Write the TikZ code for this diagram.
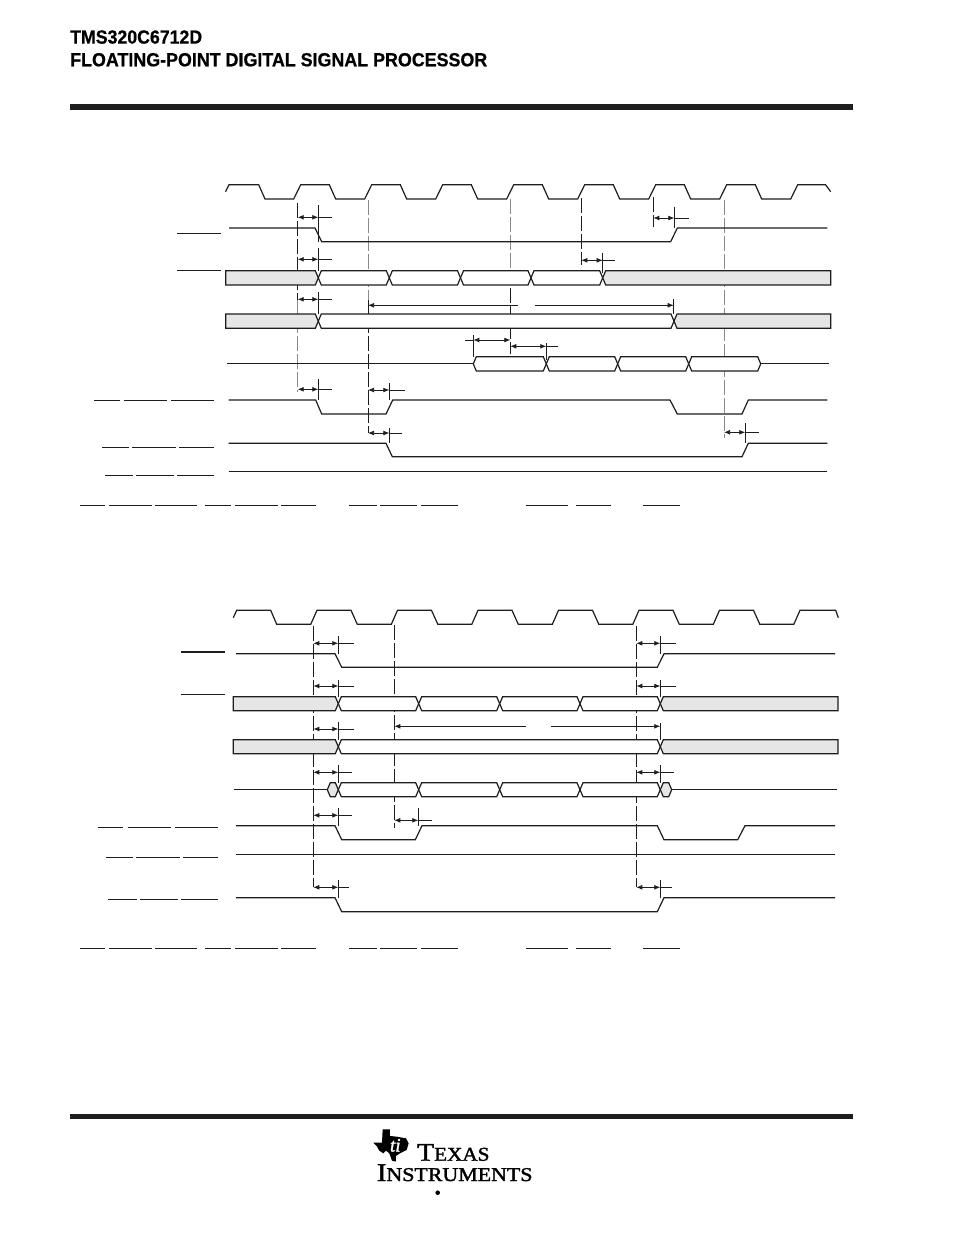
\documentclass[tikz,border=0pt]{standalone}
\usepackage{fontspec}
\usepackage{graphicx}
\setmainfont{Liberation Sans}
\newfontfamily\logofont{Liberation Serif}[FakeBold=1.6]
\newfontfamily\headfont{Liberation Sans Bold}[FakeBold=0.7]
\usetikzlibrary{arrows.meta}
\definecolor{ink}{HTML}{1E1E1E}
\definecolor{busgrey}{HTML}{E6E6E6}
\definecolor{dashgrey}{HTML}{8A8A8A}
\tikzset{
  wave/.style={draw=ink,line width=1.2pt,line join=miter},
  bar/.style={draw=ink,line width=0.9pt},
  guide/.style={draw=ink,line width=0.7pt,dash pattern=on 15pt off 3pt},
  guidegrey/.style={draw=dashgrey,line width=0.9pt,dash pattern=on 15pt off 3pt},
  dimline/.style={draw=ink,line width=0.75pt},
  dimtips/.style={dimline,{Latex[length=6pt,width=4.8pt]}-{Latex[length=6pt,width=4.8pt]}},
  endtip/.style={dimline,-{Latex[length=6pt,width=4.8pt]}},
  starttip/.style={dimline,{Latex[length=6pt,width=4.8pt]}-},
  rule/.style={fill=ink,draw=none},
  txt/.style={inner sep=0pt,anchor=base west},
}
% {x1}{x2}{y}{tail x}{tick top}{tick bottom}
\newcommand{\dimar}[6]{%
  \draw[dimtips] (#1,#3) -- (#2,#3);
  \draw[dimline] (#2,#3) -- (#4,#3);
  \draw[dimline] (#2,#5) -- (#2,#6);}
% {x1}{x2}{top}{bottom}{fill}
\newcommand{\cell}[5]{%
  \draw[wave,fill=#5] (#1,{(#3+#4)/2}) -- ({#1+3},#3) -- ({#2-3},#3) -- (#2,{(#3+#4)/2}) -- ({#2-3},#4) -- ({#1+3},#4) -- cycle;}
\newcommand{\greyleft}[4]{%
  \draw[wave,fill=busgrey] (#1,#3) -- ({#2-3},#3) -- (#2,{(#3+#4)/2}) -- ({#2-3},#4) -- (#1,#4) -- cycle;}
\newcommand{\greyright}[4]{%
  \draw[wave,fill=busgrey] (#2,#3) -- ({#1+3},#3) -- (#1,{(#3+#4)/2}) -- ({#1+3},#4) -- (#2,#4) -- cycle;}
\begin{document}
\begin{tikzpicture}[x=1pt,y=-1pt]
\useasboundingbox (0,0) rectangle (954,1235);
\fill[white] (0,0) rectangle (954,1235);

% header
\node[txt] (title1) at (70,43.6) {\resizebox{132pt}{\height}{\headfont\fontsize{19pt}{20pt}\selectfont TMS320C6712D}};
\node[txt] (title2) at (70,66.3) {\resizebox{417pt}{\height}{\headfont\fontsize{19pt}{20pt}\selectfont FLOATING-POINT DIGITAL SIGNAL PROCESSOR}};
\fill[rule] (70,104) rectangle (853,110);
\fill[rule] (70,1114) rectangle (853,1119);

% ---------- upper diagram ----------
% clock
\draw[wave] (225.5,191.7) -- (229,184.7) -- (258.7,184.7) -- (265,199) -- (293.7,199)
  \foreach \k in {0,...,6} { -- ({300.7+71*\k},184.7) -- ({329.3+71*\k},184.7) -- ({335.7+71*\k},199) -- ({364.7+71*\k},199) }
  -- (797.7,184.7) -- (825.5,184.7) -- (830.7,191.7);
% guides
\draw[guide] (297.7,202.7) -- (297.7,300);
\draw[guidegrey] (297.7,300) -- (297.7,391.7);
\draw[guidegrey] (368,200) -- (368,300);
\draw[guide] (368,300) -- (368,433);
\draw[guidegrey] (510.3,199) -- (510.3,270);
\draw[guide] (510.3,270) -- (510.3,354);
\draw[guide] (581.3,198) -- (581.3,265);
\draw[guide] (653.3,196.7) -- (653.3,226.7);
\draw[guidegrey] (724,200) -- (724,438);
% row 1
\draw[wave] (229,228) -- (315,228) -- (321.7,241.7) -- (670.7,241.7) -- (677.3,228) -- (827.3,228);
% row 2
\greyleft{225.7}{318.3}{270.7}{285}
\cell{318.3}{389.3}{270.7}{285}{white}
\cell{389.3}{460.5}{270.7}{285}{white}
\cell{460.5}{531}{270.7}{285}{white}
\cell{531}{602.7}{270.7}{285}{white}
\greyright{602.7}{830.7}{270.7}{285}
% row 3
\greyleft{225.7}{318.3}{314}{328.3}
\cell{318.3}{674}{314}{328.3}{white}
\greyright{674}{830.7}{314}{328.3}
% row 4
\draw[wave] (227,363.7) -- (473.3,363.7);
\cell{473.3}{546.3}{356.7}{371}{white}
\cell{546.3}{617.7}{356.7}{371}{white}
\cell{617.7}{688.7}{356.7}{371}{white}
\cell{688.7}{760.7}{356.7}{371}{white}
\draw[wave] (760.7,363.7) -- (829.3,363.7);
% row 5
\draw[wave] (228.7,400) -- (315.7,400) -- (321.7,414) -- (386,414) -- (392.7,400) -- (670,400) -- (677.3,414) -- (742,414) -- (748.3,400) -- (827.3,400);
% row 6
\draw[wave] (228.7,443.3) -- (386,443.3) -- (392.3,456.7) -- (742,456.7) -- (748.3,443.3) -- (827.3,443.3);
% row 7
\draw[wave] (228.7,471.7) -- (827.3,471.7);
% dimensions
\dimar{297.7}{318.3}{217.3}{332.3}{205}{241.7}
\dimar{297.7}{318.3}{259.3}{332.3}{248}{270.7}
\dimar{297.7}{318.3}{299.3}{332.3}{291.7}{314}
\dimar{297.7}{318.3}{389.3}{332.3}{379.3}{400}
\dimar{368}{389.3}{390}{404.7}{383}{400}
\dimar{368}{389.3}{433}{401.7}{428}{443.3}
\dimar{510.3}{546.3}{346.3}{558.3}{343}{360}
\dimar{581.3}{602.7}{260.3}{614.7}{253}{273}
\dimar{653.3}{674.3}{218}{688.7}{206.7}{228}
\dimar{724}{745.3}{432.3}{759.3}{423.3}{443.3}
\dimar{510.3}{473.3}{340}{465}{335}{356.7}
\draw[starttip] (368,305.3) -- (518,305.3);
\draw[endtip] (535,305.3) -- (673.7,305.3);
\draw[dimline] (673.7,299) -- (673.7,314);
% overbars
\foreach \a/\b in {177/221} { \draw[bar] (\a,233) -- (\b,233); \draw[bar] (\a,270) -- (\b,270); }
\foreach \a/\b in {94/120,124/167,171/214} \draw[bar,line width=1.3pt] (\a,400.7) -- (\b,400.7);
\foreach \a/\b in {102/129,132/176,179/214} \draw[bar,line width=1.3pt] (\a,447.7) -- (\b,447.7);
\foreach \a/\b in {105/132.7,136/174,177/214} \draw[bar,line width=1.3pt] (\a,475.7) -- (\b,475.7);
\foreach \a/\b in {80/104.7,109/151.7,155/197,205/230.7,235/277.7,281/316,349/376.7,380/417,421/458,526/568,576/610.7,643/680}
  { \draw[bar] (\a,505) -- (\b,505); \draw[bar] (\a,948) -- (\b,948); }

% ---------- lower diagram ----------
% clock
\draw[wave] (233.3,617.7) -- (236.7,610.3) -- (270.7,610.3) -- (276.7,624.3) -- (310.7,624.3)
  \foreach \k in {0,...,5} { -- ({317+80.5*\k},610.3) -- ({351+80.5*\k},610.3) -- ({357.3+80.5*\k},624.3) -- ({391.3+80.5*\k},624.3) }
  -- (800,610.3) -- (835.7,610.3) -- (838.3,617.7);
% guides
\draw[guide] (313.3,625.7) -- (313.3,887.3);
\draw[guide] (394.3,625) -- (394.3,827.7);
\draw[guide] (636.3,625.7) -- (636.3,887.3);
% row 1
\draw[wave] (236,653.7) -- (335,653.7) -- (341.7,667.3) -- (657.3,667.3) -- (664,653.7) -- (835,653.7);
% row 2
\greyleft{233.3}{338.3}{696.7}{710.7}
\cell{338.3}{418.7}{696.7}{710.7}{white}
\cell{418.7}{499.7}{696.7}{710.7}{white}
\cell{499.7}{580}{696.7}{710.7}{white}
\cell{580}{660.3}{696.7}{710.7}{white}
\greyright{660.3}{838}{696.7}{710.7}
% row 3
\greyleft{233.3}{338.3}{739.7}{753.7}
\cell{338.3}{660.3}{739.7}{753.7}{white}
\greyright{660.3}{838}{739.7}{753.7}
% row 4
\draw[wave] (234.3,789.7) -- (327.3,789.7);
\cell{327.3}{338.3}{782.7}{796.7}{busgrey}
\cell{338.3}{418.7}{782.7}{796.7}{white}
\cell{418.7}{499.7}{782.7}{796.7}{white}
\cell{499.7}{580}{782.7}{796.7}{white}
\cell{580}{660.3}{782.7}{796.7}{white}
\cell{660.3}{671.7}{782.7}{796.7}{busgrey}
\draw[wave] (671.7,789.7) -- (836.7,789.7);
% row 5
\draw[wave] (236,825.7) -- (335,825.7) -- (341.7,839.7) -- (415.3,839.7) -- (422,825.7) -- (657.3,825.7) -- (664,839.7) -- (737.7,839.7) -- (745,825.7) -- (835,825.7);
% row 6
\draw[wave] (236,854.3) -- (835,854.3);
% row 7
\draw[wave] (236,897.7) -- (335,897.7) -- (341.7,911.7) -- (657.3,911.7) -- (664,897.7) -- (835,897.7);
% dimensions
\dimar{313.3}{338.3}{643.3}{353.7}{635.7}{653.7}
\dimar{313.3}{338.3}{686}{353.7}{680}{696.7}
\dimar{313.3}{338.3}{729}{353.7}{722.3}{739.7}
\dimar{313.3}{338.3}{772.3}{351.7}{765}{782.7}
\dimar{313.3}{338.3}{815.3}{351.7}{808.3}{825.7}
\dimar{394.3}{418.3}{820.3}{432}{808.3}{825.7}
\dimar{313.3}{338.3}{887.3}{349.3}{880}{897.7}
\dimar{636.3}{660.3}{643.3}{676}{635.7}{653.7}
\dimar{636.3}{660.3}{686}{676}{680}{696.7}
\dimar{636.3}{660.3}{772.3}{674}{765}{782.7}
\dimar{636.3}{660.3}{887.3}{672}{880}{897.7}
\draw[starttip] (394.3,726.3) -- (525.7,726.3);
\draw[endtip] (551,726.3) -- (660.3,726.3);
\draw[dimline] (660.3,723.3) -- (660.3,739.7);
% overbars
\draw[bar,line width=1.5pt] (181,652) -- (225,652);
\draw[bar,line width=1.5pt] (181,694.7) -- (225,694.7);
\foreach \a/\b in {98/123.3,128/170.7,175/218} \draw[bar] (\a,827) -- (\b,827);
\foreach \a/\b in {106/132.7,136/179.7,183/218} \draw[bar] (\a,857.3) -- (\b,857.3);
\foreach \a/\b in {108/136.7,140/178,181/218} \draw[bar] (\a,899.3) -- (\b,899.3);

% ---------- logo ----------
\begin{scope}[x=0.33333pt,y=-0.33333pt,shift={(1080,3360)}]
  \fill[black] (68,28) -- (90,28) -- (90,48) -- (110,50) -- (138,55) -- (146,70) -- (140,90) -- (120,100) -- (108,108) -- (108,125) -- (96,122) -- (88,100) -- (78,92) -- (70,100) -- (58,92) -- (50,78) -- (40,68) -- (66,68) -- cycle;
  \node[text=white,inner sep=0pt] (tilogo) at (106,76) {\fontsize{19pt}{22pt}\selectfont\itshape\logofont ti};
\end{scope}
\node[txt] (logo1) at (417,1160.7) {\resizebox{72.3pt}{\height}{\logofont\fontsize{25.5pt}{26pt}\selectfont T\fontsize{19.5pt}{26pt}\selectfont EXAS}};
\node[txt] (logo2) at (376.7,1181) {\resizebox{155.6pt}{\height}{\logofont\fontsize{25.5pt}{26pt}\selectfont I\fontsize{19.5pt}{26pt}\selectfont NSTRUMENTS}};
\fill[black] (437.7,1192.7) circle (2.3);
\end{tikzpicture}
\end{document}
